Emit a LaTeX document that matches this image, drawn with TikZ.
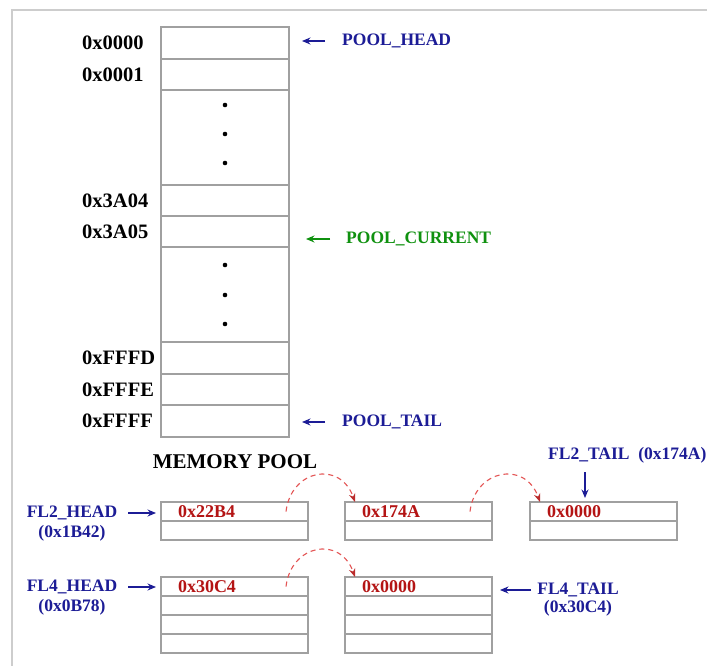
\documentclass[tikz,border=0pt]{standalone}
\usepackage{fontspec}
\setmainfont{Liberation Serif}
\usetikzlibrary{arrows.meta,positioning}

\definecolor{ptrblue}{RGB}{28,28,150}
\definecolor{ptrgreen}{RGB}{15,145,15}
\definecolor{valred}{RGB}{180,20,20}
\definecolor{linkred}{RGB}{228,85,85}
\definecolor{cellgray}{RGB}{160,160,160}
\definecolor{framegray}{RGB}{205,205,205}

\begin{document}
\begin{tikzpicture}[
        x=1pt, y=-1pt,
        cell/.style={
            draw=cellgray,
            line width=1.2pt,
            minimum width=128pt,
            inner sep=0pt,
            outer sep=0pt
        },
        listcell/.style={
            cell,
            minimum width=147pt,
            minimum height=19pt,
            text width=113pt,
            inner xsep=17pt,
            align=left,
            text=valred,
            font=\fontsize{18}{20}\selectfont\bfseries
        },
        addr/.style={
            anchor=west,
            inner sep=0pt,
            font=\fontsize{20.5}{23}\selectfont\bfseries
        },
        tag/.style={
            inner sep=0pt,
            text=ptrblue,
            font=\fontsize{17.5}{20}\selectfont\bfseries
        },
        pointer/.style={-{Stealth[length=8.5pt,width=7pt]}, line width=1.2pt,
            draw=ptrblue},
        link/.style={-{Stealth[length=8.5pt,width=6.5pt,color=valred!90]},
            line width=1.1pt, dash pattern=on 5pt off 4pt, draw=linkred}
    ]
        \path[use as bounding box, fill=white] (0,0) rectangle (707,666);
        \draw[framegray, line width=2pt] (707,10) -- (12,10) -- (12,666);

        % Memory pool column
        \node[cell, minimum height=32pt, anchor=north west] (c0000) at (161,27) {};
        \node[cell, minimum height=31pt, below=0pt of c0000] (c0001) {};
        \node[cell, minimum height=95pt, below=0pt of c0001] (gap1) {};
        \node[cell, minimum height=31pt, below=0pt of gap1] (c3a04) {};
        \node[cell, minimum height=31pt, below=0pt of c3a04] (c3a05) {};
        \node[cell, minimum height=95pt, below=0pt of c3a05] (gap2) {};
        \node[cell, minimum height=32pt, below=0pt of gap2] (cfffd) {};
        \node[cell, minimum height=31pt, below=0pt of cfffd] (cfffe) {};
        \node[cell, minimum height=32pt, below=0pt of cfffe] (cffff) {};

        \fill (225,105) circle (2.3pt) (225,134) circle (2.3pt)
            (225,163) circle (2.3pt);
        \fill (225,265) circle (2.3pt) (225,295) circle (2.3pt)
            (225,324) circle (2.3pt);

        \coordinate (addrx) at (82,0);
        \node[addr] (l0000) at (addrx |- c0000) {0x0000};
        \node[addr] (l0001) at (addrx |- c0001) {0x0001};
        \node[addr] (l3a04) at (addrx |- c3a04) {0x3A04};
        \node[addr] (l3a05) at (addrx |- c3a05) {0x3A05};
        \node[addr] (lfffd) at (addrx |- cfffd) {0xFFFD};
        \node[addr] (lfffe) at (addrx |- cfffe) {0xFFFE};
        \node[addr] (lffff) at (addrx |- cffff) {0xFFFF};

        \node[tag, anchor=west] (poolhead) at (342,41) {POOL\_HEAD};
        \node[tag, anchor=west, text=ptrgreen] (poolcur) at (346,239)
            {POOL\_CURRENT};
        \node[tag, anchor=west] (pooltail) at (342,422) {POOL\_TAIL};

        \draw[pointer, shorten <=17pt, shorten >=13pt] (poolhead.west) --
            (poolhead.west -| c0000.east);
        \draw[pointer, draw=ptrgreen, shorten <=16pt, shorten >=17pt]
            (poolcur.west) -- (poolcur.west -| c3a05.east);
        \draw[pointer, shorten <=17pt, shorten >=13pt] (pooltail.west) --
            (pooltail.west -| cffff.east);

        \node[font=\fontsize{21}{24}\selectfont\bfseries] (mplabel) at (235,462)
            {MEMORY POOL};

        % Free list of 2-unit blocks
        \node[listcell, anchor=north west] (fl2a) at (161,502) {0x22B4};
        \node[listcell, below=0pt of fl2a] (fl2a2) {};
        \node[listcell, anchor=north west] (fl2b) at (345,502) {0x174A};
        \node[listcell, below=0pt of fl2b] (fl2b2) {};
        \node[listcell, anchor=north west] (fl2c) at (530,502) {0x0000};
        \node[listcell, below=0pt of fl2c] (fl2c2) {};

        \node[tag] (fl2head) at (72,513) {FL2\_HEAD};
        \node[tag] (fl2headaddr) at (72,533) {(0x1B42)};
        \draw[pointer, shorten <=11pt, shorten >=5pt] (fl2head.east) --
            (fl2head.east -| fl2a.west);

        \node[tag, anchor=west] (fl2tail) at (548,455) {FL2\_TAIL~~(0x174A)};
        \coordinate (fl2tailtip) at ([xshift=55pt]fl2c.north west);
        \draw[pointer, shorten <=9pt, shorten >=4pt] (fl2tail.south -| fl2tailtip)
            -- (fl2tailtip);

        \draw[link] ([xshift=-22pt]fl2a.east) .. controls +(5,-42) and +(-15,-42)
            .. ([xshift=10pt]fl2b.north west);
        \draw[link] ([xshift=-22pt]fl2b.east) .. controls +(5,-42) and +(-15,-42)
            .. ([xshift=10pt]fl2c.north west);

        % Free list of 4-unit blocks
        \node[listcell, anchor=north west] (fl4a) at (161,577) {0x30C4};
        \node[listcell, below=0pt of fl4a] (fl4a2) {};
        \node[listcell, below=0pt of fl4a2] (fl4a3) {};
        \node[listcell, below=0pt of fl4a3] (fl4a4) {};
        \node[listcell, anchor=north west] (fl4b) at (345,577) {0x0000};
        \node[listcell, below=0pt of fl4b] (fl4b2) {};
        \node[listcell, below=0pt of fl4b2] (fl4b3) {};
        \node[listcell, below=0pt of fl4b3] (fl4b4) {};

        \node[tag] (fl4head) at (72,587) {FL4\_HEAD};
        \node[tag] (fl4headaddr) at (72,607) {(0x0B78)};
        \draw[pointer, shorten <=11pt, shorten >=5pt] (fl4head.east) --
            (fl4head.east -| fl4a.west);

        \node[tag] (fl4tail) at (578,590) {FL4\_TAIL};
        \node[tag] (fl4tailaddr) at (578,608) {(0x30C4)};
        \draw[pointer, shorten <=6pt, shorten >=8pt] (fl4tail.west) --
            (fl4tail.west -| fl4b.east);

        \draw[link] ([xshift=-22pt]fl4a.east) .. controls +(5,-42) and +(-15,-42)
            .. ([xshift=10pt]fl4b.north west);
    \end{tikzpicture}
\end{document}
